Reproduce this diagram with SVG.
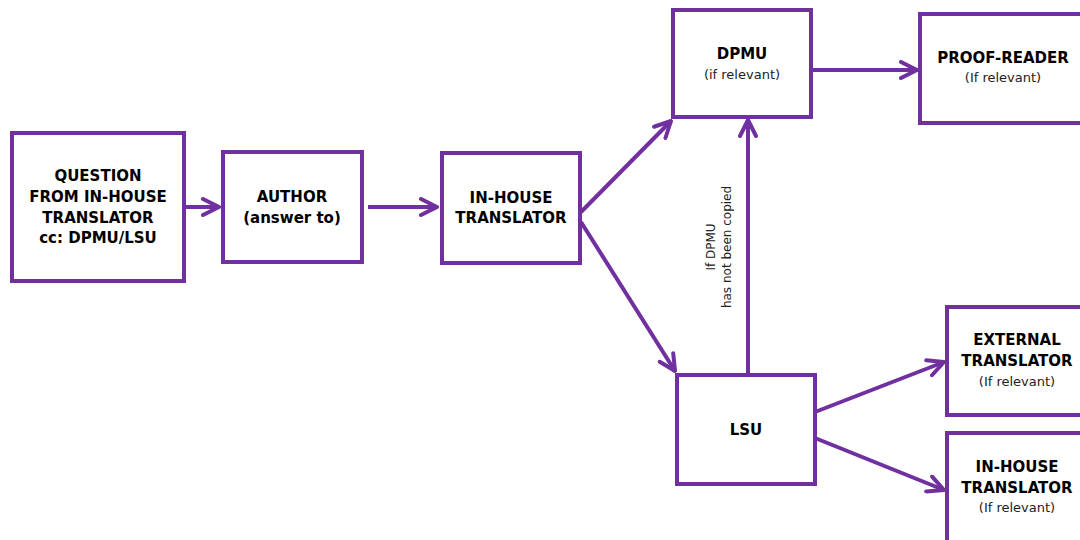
<svg xmlns="http://www.w3.org/2000/svg" width="1080" height="540" viewBox="0 0 1080 540">
<defs>
<style>
.box{fill:#fff;stroke:#7030A0;stroke-width:4}
.t{font-family:"DejaVu Sans","Verdana",sans-serif;font-size:15px;font-weight:bold;fill:#000;text-anchor:middle}
.s{font-family:"DejaVu Sans","Verdana",sans-serif;font-size:13px;fill:#222;text-anchor:middle}
.v{font-family:"DejaVu Sans","Verdana",sans-serif;font-size:12px;fill:#222;text-anchor:middle}
.c{stroke:#7030A0;stroke-width:4;fill:none}
</style>
<marker id="ah" viewBox="0 0 10 10" refX="9" refY="5" markerWidth="5" markerHeight="5" markerUnits="strokeWidth" orient="auto">
<path d="M1,1 L9,5 L1,9" fill="none" stroke="#7030A0" stroke-width="2" stroke-linecap="round" stroke-linejoin="round"/>
</marker>
</defs>
<rect width="1080" height="540" fill="#fff"/>
<g id="connectors">
<line class="c" x1="184" y1="207" x2="219" y2="207" marker-end="url(#ah)"/>
<line class="c" x1="368" y1="207" x2="437" y2="207" marker-end="url(#ah)"/>
<line class="c" x1="581" y1="212" x2="671" y2="121" marker-end="url(#ah)"/>
<line class="c" x1="581" y1="222" x2="675" y2="371" marker-end="url(#ah)"/>
<line class="c" x1="748" y1="375" x2="748" y2="120" marker-end="url(#ah)"/>
<line class="c" x1="811" y1="70" x2="917" y2="70" marker-end="url(#ah)"/>
<line class="c" x1="815" y1="412" x2="944" y2="362" marker-end="url(#ah)"/>
<line class="c" x1="815" y1="438" x2="944" y2="490" marker-end="url(#ah)"/>
<text class="v" transform="translate(715,247) rotate(-90)"><tspan x="0" y="0">If DPMU</tspan><tspan x="0" y="16">has not been copied</tspan></text>
</g>
<g id="question">
<rect class="box" x="12" y="133" width="172" height="148"/>
<text class="t"><tspan x="98" y="181">QUESTION</tspan><tspan x="98" y="202">FROM IN-HOUSE</tspan><tspan x="98" y="223">TRANSLATOR</tspan><tspan x="98" y="243">cc: DPMU/LSU</tspan></text>
</g>
<g id="author">
<rect class="box" x="223" y="152" width="139" height="110"/>
<text class="t"><tspan x="292" y="202">AUTHOR</tspan><tspan x="292" y="223">(answer to)</tspan></text>
</g>
<g id="inhouse1">
<rect class="box" x="442" y="153" width="138" height="110"/>
<text class="t"><tspan x="511" y="203">IN-HOUSE</tspan><tspan x="511" y="223">TRANSLATOR</tspan></text>
</g>
<g id="dpmu">
<rect class="box" x="673" y="10" width="138" height="107"/>
<text class="t" x="742" y="59">DPMU</text>
<text class="s" x="742" y="79">(if relevant)</text>
</g>
<g id="proofreader">
<rect class="box" x="920" y="14" width="170" height="109"/>
<text class="t" x="1003" y="63">PROOF-READER</text>
<text class="s" x="1003" y="82">(If relevant)</text>
</g>
<g id="lsu">
<rect class="box" x="677" y="375" width="138" height="109"/>
<text class="t" x="746" y="435">LSU</text>
</g>
<g id="external">
<rect class="box" x="947" y="307" width="143" height="108"/>
<text class="t"><tspan x="1017" y="345">EXTERNAL</tspan><tspan x="1017" y="366">TRANSLATOR</tspan></text>
<text class="s" x="1017" y="386">(If relevant)</text>
</g>
<g id="inhouse2">
<rect class="box" x="947" y="433" width="143" height="120"/>
<text class="t"><tspan x="1017" y="472">IN-HOUSE</tspan><tspan x="1017" y="493">TRANSLATOR</tspan></text>
<text class="s" x="1017" y="512">(If relevant)</text>
</g>
</svg>
